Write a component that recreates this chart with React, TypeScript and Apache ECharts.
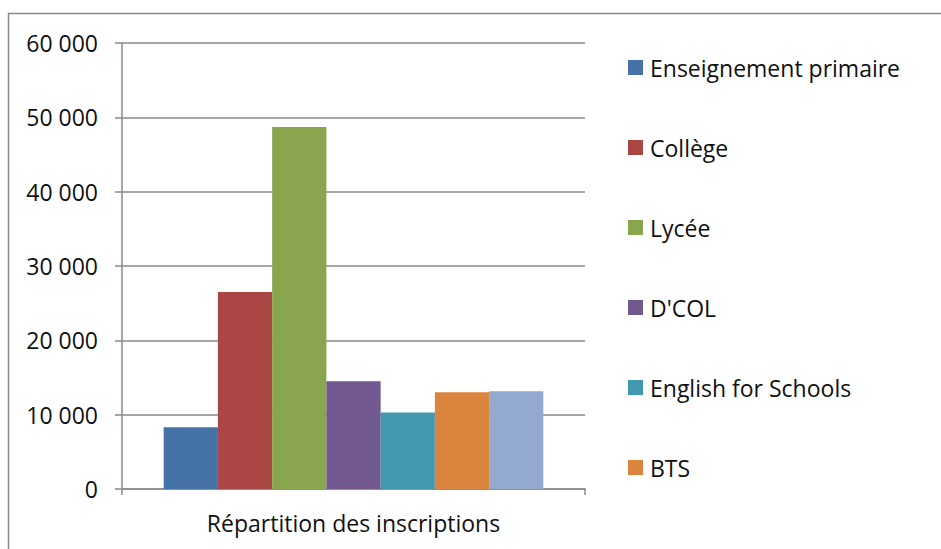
import React, { useEffect, useRef } from "react";
import * as echarts from "echarts";

const categories = ["Répartition des inscriptions"];
const seriesNames = [
  "Enseignement primaire",
  "Collège",
  "Lycée",
  "D'COL",
  "English for Schools",
  "BTS",
  "Autres",
];
const seriesValues = [8300, 26500, 48700, 14500, 10300, 13000, 13150];
const seriesColors = ["#4572A7", "#AA4643", "#89A54E", "#71588F", "#4198AF", "#DB843D", "#93A9CF"];
const legendNames = seriesNames.slice(0, 6);

const FONT = "'Open Sans', sans-serif";

export default function App() {
  const ref = useRef<HTMLDivElement>(null);
  useEffect(() => {
    if (!ref.current) return;
    const chart = echarts.init(ref.current, undefined, { renderer: "svg" });
    chart.setOption({
      animation: false,
      backgroundColor: "#ffffff",
      textStyle: { fontFamily: FONT },
      graphic: [
        {
          type: "rect",
          shape: { x: 8.5, y: 13.5, width: 1000, height: 600 },
          style: { fill: "none", stroke: "#8a8a8a", lineWidth: 1.5 },
          silent: true,
          z: -10,
        },
      ],
      grid: { left: 122, right: 356, top: 43, bottom: 60, containLabel: false },
      legend: {
        orient: "vertical",
        left: 628,
        top: 56,
        padding: 0,
        itemWidth: 15,
        itemHeight: 15,
        itemGap: 57,
        icon: "rect",
        data: legendNames,
        textStyle: { fontFamily: FONT, fontSize: 23, color: "#111", lineHeight: 23, padding: [0, 0, 0, 2] },
        selectedMode: false,
      },
      xAxis: {
        type: "category",
        data: categories,
        axisLine: { show: true, lineStyle: { color: "#8a8a8a", width: 1.5 } },
        axisTick: { show: true, length: 6, lineStyle: { color: "#8a8a8a", width: 1.5 } },
        axisLabel: { fontFamily: FONT, fontSize: 23, color: "#111", margin: 22 },
      },
      yAxis: {
        type: "value",
        min: 0,
        max: 60000,
        interval: 10000,
        axisLine: { show: true, lineStyle: { color: "#8a8a8a", width: 1.5 } },
        axisTick: { show: true, length: 7, lineStyle: { color: "#8a8a8a", width: 1.5 } },
        splitLine: { show: true, lineStyle: { color: "#8a8a8a", width: 1.5 } },
        axisLabel: {
          fontFamily: FONT,
          fontSize: 23,
          color: "#111",
          margin: 24,
          formatter: (v: number) => String(v).replace(/\B(?=(\d{3})+(?!\d))/g, " "),
        },
      },
      series: seriesNames.map((name, i) => ({
        name,
        type: "bar",
        data: [seriesValues[i]],
        itemStyle: { color: seriesColors[i] },
        barGap: "0%",
        barCategoryGap: "18%",
      })),
    });
    return () => chart.dispose();
  }, []);
  return (
    <div
      ref={ref}
      style={{ position: "fixed", left: 0, top: 0, width: 941, height: 549 }}
    />
  );
}
